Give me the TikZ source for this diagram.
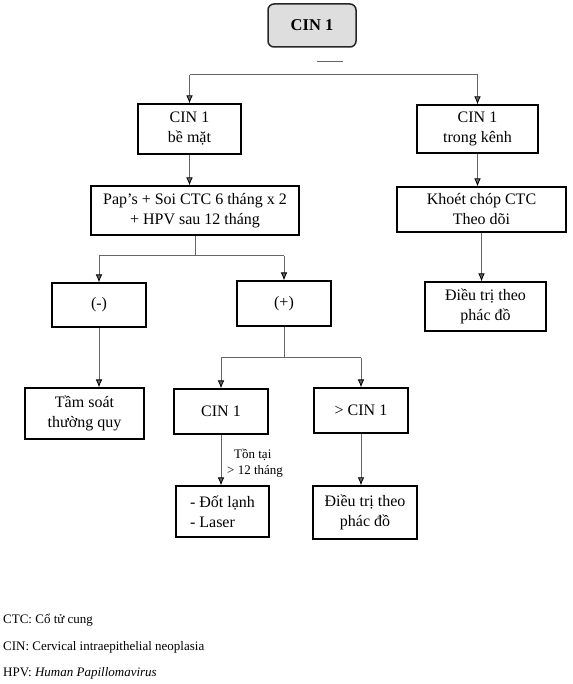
\documentclass[tikz,border=0pt]{standalone}
\usepackage{fontspec}
\setmainfont{Liberation Serif}
\usetikzlibrary{arrows.meta}
\usetikzlibrary{calc}
\usetikzlibrary{positioning}

\tikzset{
  box/.style={draw,rectangle,line width=1.1pt,align=center,inner sep=0pt,
    font=\fontsize{16}{20}\selectfont},
  link/.style={draw,color=black!60,line width=0.8pt},
  note/.style={anchor=west,inner sep=0pt,font=\fontsize{13}{15}\selectfont}
}

\begin{document}
\begin{tikzpicture}[x=1pt,y=-1pt,>={Latex[black,length=8pt,width=6.5pt]}]

  \useasboundingbox (0,0) rectangle (572,684);

  % boxes
  \node [box,rounded corners=6pt,fill=black!13,draw=black!85,line width=1.5pt,
    font=\bfseries\fontsize{16.5}{20}\selectfont,
    minimum width=88pt,minimum height=43pt] (top) at (312,25.5) {CIN 1};

  \node [box,minimum width=103pt,minimum height=50pt] (bemat)   at (189.5,129)   {CIN 1\\bề mặt};
  \node [box,minimum width=121pt,minimum height=48pt] (kenh)    at (477.5,129)   {CIN 1\\trong kênh};
  \node [box,minimum width=208pt,minimum height=49pt] (paps)    at (195,210.5)   {Pap’s + Soi CTC 6 tháng x 2\\+ HPV sau 12 tháng};
  \node [box,minimum width=169pt,minimum height=45pt] (khoet)   at (481.5,209.5) {Khoét chóp CTC\\Theo dõi};
  \node [box,minimum width=94pt,minimum height=44pt]  (neg)     at (99,305)      {(-)};
  \node [box,minimum width=94pt,minimum height=45pt]  (pos)     at (284,303.5)   {(+)};
  \node [box,minimum width=121pt,minimum height=49pt] (dtR)     at (485.5,306.5) {Điều trị theo\\phác đồ};
  \node [box,minimum width=119pt,minimum height=51pt] (tam)     at (84.5,413.5)  {Tầm soát\\thường quy};
  \node [box,minimum width=94pt,minimum height=45pt]  (cinB)    at (221,411.5)   {CIN 1};
  \node [box,minimum width=94pt,minimum height=45pt]  (overcin) at (361,410.5)   {> CIN 1};
  \node [box,align=left,minimum width=93pt,minimum height=51pt] (dot) at (222.5,511.5) {- Đốt lạnh\\- Laser};
  \node [box,line width=1.4pt,minimum width=104pt,minimum height=53pt] (dtL) at (365,512.5) {Điều trị theo\\phác đồ};

  % connectors
  \draw [link] ($(top.south)+(5,14)$) -- +(26,0);
  \coordinate (tb) at ($(top.south)+(0,27)$);
  \draw [link] (tb -| bemat.north) -- (tb -| kenh.north);
  \path [link]
    (tb -| bemat.north) edge [->] (bemat.north)
    (tb -| kenh.north)  edge [->] (kenh.north)
    (bemat.south)       edge [->] (bemat.south |- paps.north)
    (kenh.south)        edge [->] (kenh.south |- khoet.north)
    (khoet.south)       edge [->] (khoet.south |- dtR.north)
    (neg.south)         edge [->] (neg.south |- tam.north)
    (cinB.south)        edge [->] (dot.north -| cinB.south)
    (overcin.south)     edge [->] (dtL.north -| overcin.south);

  \draw [link] (paps.south) -- +(0,20) coordinate (pb);
  \draw [link] (pb -| neg.north) -- (pb -| pos.north);
  \path [link]
    (pb -| neg.north) edge [->] (neg.north)
    (pb -| pos.north) edge [->] (pos.north);

  \draw [link] (pos.south) -- +(0,31) coordinate (qb);
  \draw [link] (qb -| cinB.north) -- (qb -| overcin.north);
  \path [link]
    (qb -| cinB.north)    edge [->] (cinB.north)
    (qb -| overcin.north) edge [->] (overcin.north);

  \node [align=left,inner sep=0pt,font=\fontsize{13}{16}\selectfont,anchor=west]
    (persist) at (227,463) {\hspace*{7pt}Tồn tại\\> 12 tháng};

  % notes
  \node [note] (nctc) at (3,620) {CTC: Cổ tử cung};
  \node [note] (ncin) at (3,647) {CIN: Cervical intraepithelial neoplasia};
  \node [note] (nhpv) at (3,673) {HPV: \textit{Human Papillomavirus}};

\end{tikzpicture}
\end{document}
